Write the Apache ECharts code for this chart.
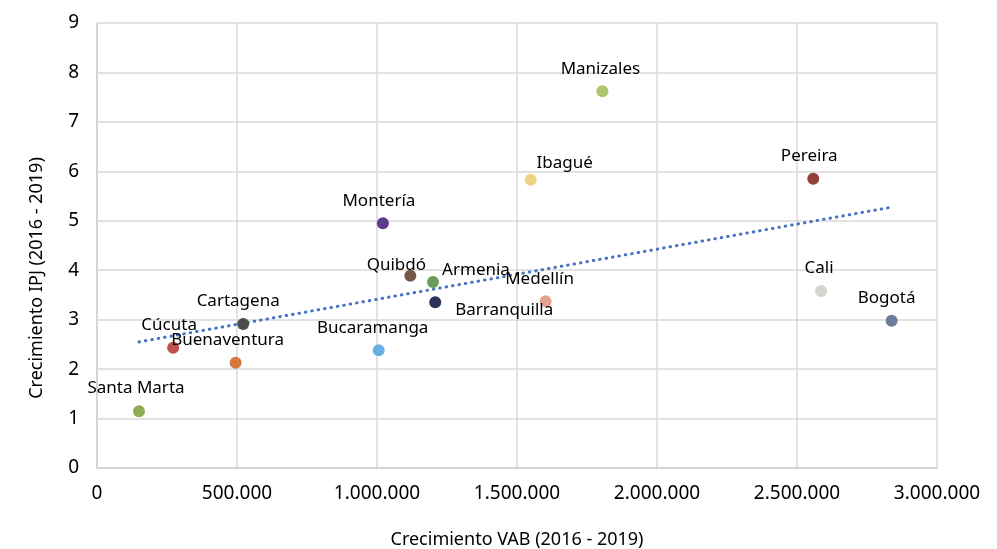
<!DOCTYPE html>
<html>
<head>
<meta charset="utf-8">
<script src="https://cdn.jsdelivr.net/npm/echarts@6/dist/echarts.min.js"></script>
<style>
html,body{margin:0;padding:0;background:#fff;}
#chart{width:997px;height:549px;}
</style>
</head>
<body>
<div id="chart"></div>
<script>
// ---- Data ----
const cities = ['Santa Marta','Cúcuta','Buenaventura','Cartagena','Bucaramanga','Montería','Quibdó','Armenia','Barranquilla','Medellín','Ibagué','Manizales','Pereira','Cali','Bogotá'];
const vabGrowth = [150000, 272000, 495000, 522000, 1006000, 1021000, 1119000, 1200000, 1208000, 1602000, 1549000, 1805000, 2558000, 2586000, 2838000];
const ipjGrowth = [1.15, 2.43, 2.13, 2.91, 2.38, 4.95, 3.89, 3.76, 3.35, 3.37, 5.83, 7.62, 5.85, 3.58, 2.98];
const xTicks = [0, 500000, 1000000, 1500000, 2000000, 2500000, 3000000];
const yTicks = [0,1,2,3,4,5,6,7,8,9];

// ---- Styles ----
const pointColors = ['#8fac55','#c0504d','#d5793f','#4b4b4b','#6aaee2','#5e3b8b','#745748','#6a9b58','#2c3357','#e2a48e','#eed384','#afc46e','#93403b','#d4d4d1','#6e7c99'];
const labelOffsets = {
  'Santa Marta':[-3,0], 'Cúcuta':[-4,0], 'Buenaventura':[-8,0], 'Cartagena':[-5,0],
  'Bucaramanga':[-6,0], 'Montería':[-4,0], 'Quibdó':[-14,12], 'Armenia':[43,11],
  'Barranquilla':[69,30], 'Medellín':[-6,0], 'Ibagué':[34,6], 'Manizales':[-2,0],
  'Pereira':[-4,0], 'Cali':[-2,0], 'Bogotá':[-5,0]
};
const FONT = 'Noto Sans';

// linear trend (least squares) over the data
const n = vabGrowth.length;
const mx = vabGrowth.reduce((a,b)=>a+b,0)/n;
const my = ipjGrowth.reduce((a,b)=>a+b,0)/n;
let sxy=0, sxx=0;
for (let i=0;i<n;i++){ sxy += (vabGrowth[i]-mx)*(ipjGrowth[i]-my); sxx += (vabGrowth[i]-mx)**2; }
const slope = sxy/sxx, intercept = my - slope*mx;
const xmin = Math.min(...vabGrowth), xmax = Math.max(...vabGrowth);
const trendData = [[xmin, intercept+slope*xmin],[xmax, intercept+slope*xmax]];

const scatterData = cities.map((c,i)=>({
  name: c,
  value: [vabGrowth[i], ipjGrowth[i]],
  itemStyle: {color: pointColors[i], opacity:1},
  label: {offset: labelOffsets[c] || [0,0]}
}));

function fmt(v){ return String(Math.round(v)).replace(/\B(?=(\d{3})+(?!\d))/g,'.'); }

const chart = echarts.init(document.getElementById('chart'), null, {renderer:'canvas'});
chart.setOption({
  animation:false,
  backgroundColor:'#ffffff',
  grid:{left:97, right:60, top:23, bottom:81, containLabel:false, outerBoundsMode:'none'},
  xAxis:{
    type:'value', min:xTicks[0], max:xTicks[xTicks.length-1], interval:500000,
    axisLine:{show:true, lineStyle:{color:'#d0d0d0', width:1.5}},
    axisTick:{show:false},
    splitLine:{show:true, lineStyle:{color:'#d9d9d9', width:1.5}},
    axisLabel:{color:'#000', fontFamily:FONT, fontSize:19, margin:16, formatter: fmt},
    name:'Crecimiento VAB (2016 - 2019)', nameLocation:'middle', nameGap:63,
    nameTextStyle:{color:'#000', fontFamily:FONT, fontSize:18}
  },
  yAxis:{
    type:'value', min:yTicks[0], max:yTicks[yTicks.length-1], interval:1,
    axisLine:{show:true, lineStyle:{color:'#d0d0d0', width:1.5}},
    axisTick:{show:false},
    splitLine:{show:true, lineStyle:{color:'#d9d9d9', width:1.5}},
    axisLabel:{color:'#000', fontFamily:FONT, fontSize:19, margin:18}
  },
  graphic:[{
    type:'text', rotation:Math.PI/2, x:37, y:278,
    style:{text:'Crecimiento IPJ (2016 - 2019)', fill:'#000', font:'18px "Noto Sans"', textAlign:'center', textVerticalAlign:'middle'}
  }],
  series:[
    {
      type:'line', data:trendData, showSymbol:false, symbol:'none', z:3,
      lineStyle:{color:'#4472c4', width:3, type:[0.5,6], cap:'round'},
      silent:true
    },
    {
      type:'scatter', data:scatterData, symbolSize:12, z:4,
      itemStyle:{opacity:1},
      label:{show:true, position:'top', distance:8, formatter:'{b}', color:'#000', fontFamily:FONT, fontSize:17}
    }
  ]
});
</script>
</body>
</html>
